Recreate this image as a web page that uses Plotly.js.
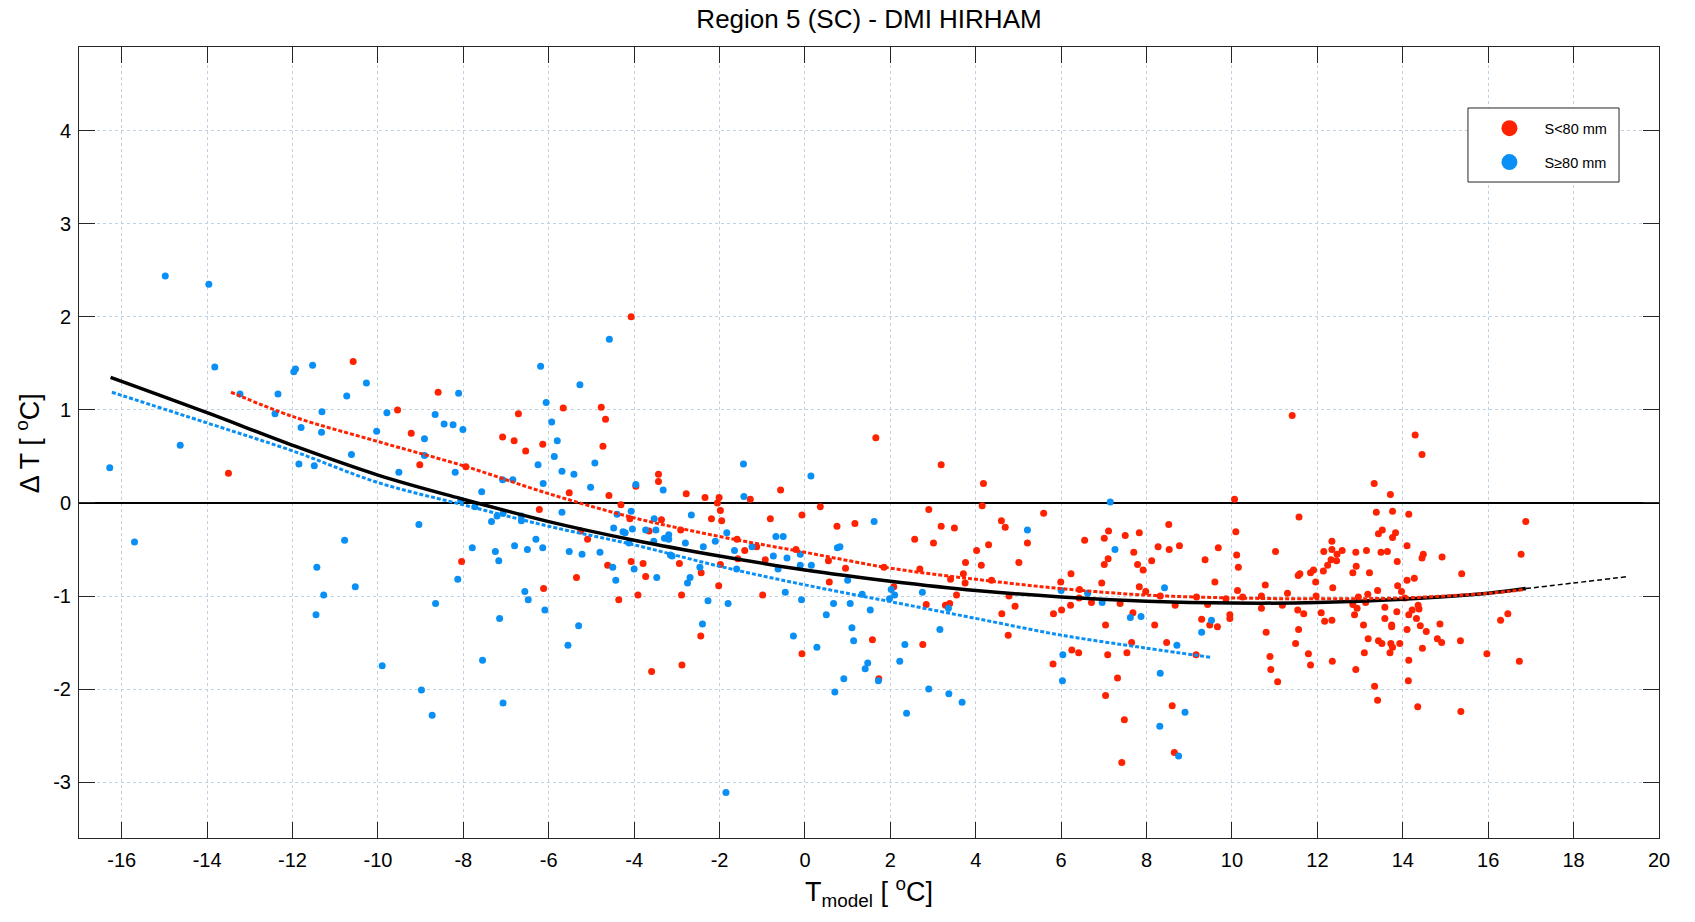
<!DOCTYPE html>
<html>
<head>
<meta charset="utf-8">
<script src="https://cdn.plot.ly/plotly-3.0.1.min.js"></script>
<style>html,body{margin:0;padding:0;background:#fff;}#chart{width:1695px;height:922px;}</style>
</head>
<body>
<div id="chart"></div>
<script>
// ---- Scatter: S<80 mm (red) ----
const redX = [-10.58,-8.59,-9.54,-9.22,-9.02,-7.94,-13.50,-4.07,-6.71,-7.08,-6.81,-6.54,-6.14,-5.66,-4.77,-4.67,-4.73,-5.52,-6.22,-4.59,-4.31,-3.96,-3.43,-3.43,-4.10,-3.36,-2.78,-2.34,-2.01,-2.05,-1.98,-2.19,-1.95,-1.28,-0.57,-0.81,-0.07,0.36,1.66,-8.04,
-5.25,-5.09,-5.35,-6.12,-4.62,-4.36,-4.07,-3.79,-3.73,-3.91,-3.65,-2.91,-2.94,-2.89,-2.43,-2.44,-2.88,-3.59,-2.02,-1.98,-1.59,-1.41,-1.57,-1.13,-0.93,-0.99,-0.21,0.55,0.95,0.57,-0.07,0.75,1.17,1.85,1.58,1.73,
3.19,4.18,2.90,4.15,5.59,4.60,10.06,11.41,14.29,14.45,13.33,13.71,11.57,13.38,13.76,14.14,16.88,
2.57,3.19,3.50,3.01,2.69,2.08,2.84,2.76,3.41,3.29,3.39,3.55,3.71,3.75,3.76,4.02,4.13,4.30,4.69,4.37,4.78,4.61,4.76,4.92,5.01,5.21,5.81,5.82,6.01,5.99,6.23,6.22,6.25,6.41,6.42,6.43,6.55,6.71,6.95,7.01,7.11,7.10,7.01,7.04,7.09,7.32,7.04,7.48,7.42,7.38,7.50,7.70,7.79,7.92,7.83,7.83,7.98,7.68,7.65,7.54,8.12,8.19,8.27,8.52,8.53,8.77,8.32,8.67,8.47,8.60,8.65,9.17,9.29,9.43,9.48,9.66,9.16,9.37,9.60,9.68,9.86,9.95,9.95,10.09,10.11,10.15,10.13,10.25,10.69,10.69,10.78,10.80,10.89,10.91,11.07,11.02,11.18,11.30,
13.52,13.43,13.83,13.76,14.10,12.34,12.15,12.34,12.46,12.58,12.45,12.32,12.24,12.14,11.96,11.84,11.91,11.55,11.59,12.36,12.90,13.15,12.91,12.83,13.22,13.49,13.64,13.87,14.10,14.27,13.88,13.97,14.45,14.48,14.92,15.38,16.77,13.41,13.18,12.96,12.83,12.93,13.13,11.54,11.68,12.09,12.17,12.34,11.56,11.49,11.79,11.84,12.35,12.87,13.08,13.19,13.10,12.90,13.34,13.41,13.58,13.58,13.74,13.74,13.86,13.43,13.51,13.72,13.76,13.70,13.93,14.10,14.14,14.22,14.36,14.38,14.32,14.41,14.55,14.46,14.14,14.13,14.35,14.87,14.81,14.91,15.35,15.36,15.97,16.29,16.46,16.73,11.97,14.05];
const redY = [1.52,1.19,1.00,0.75,0.41,0.39,0.32,2.00,0.96,0.71,0.67,0.56,0.63,1.02,1.03,0.90,0.61,0.11,-0.07,0.08,-0.02,0.18,0.31,0.23,-0.17,-0.18,0.10,0.06,0.06,0.00,-0.08,-0.17,-0.19,0.04,0.14,-0.17,-0.13,-0.04,0.70,-0.63,
-0.30,-0.39,-0.80,-0.92,-0.67,-1.04,-0.63,-0.65,-0.79,-0.99,-0.30,-0.29,-0.65,-0.99,-0.75,-1.43,-1.74,-1.81,-0.89,-0.66,-0.39,-0.51,-0.60,-0.47,-0.61,-0.99,-0.50,-0.62,-0.70,-0.85,-1.62,-0.25,-0.22,-0.69,-1.47,-1.89,
0.41,0.21,-0.07,-0.03,-0.11,-0.19,0.04,0.94,0.73,0.52,0.21,0.09,-0.15,-0.10,-0.09,-0.12,-0.20,
-0.39,-0.25,-0.27,-0.43,-0.71,-0.90,-1.09,-1.52,-0.82,-1.10,-1.08,-0.99,-0.76,-0.86,-0.64,-0.51,-0.67,-0.45,-0.26,-0.83,-1.00,-1.19,-1.42,-1.11,-0.64,-0.43,-1.73,-1.19,-1.15,-0.85,-0.76,-1.10,-1.58,-1.61,-1.02,-0.93,-0.40,-1.07,-0.86,-0.38,-0.30,-0.60,-0.66,-1.31,-1.63,-1.88,-2.07,-2.33,-2.79,-1.08,-0.35,-0.53,-0.66,-0.72,-0.32,-0.90,-0.95,-1.18,-1.50,-1.61,-0.62,-1.31,-0.47,-0.23,-0.50,-0.46,-1.00,-1.10,-1.50,-2.18,-2.68,-1.01,-1.25,-1.09,-1.31,-1.33,-1.63,-0.61,-0.85,-0.48,-1.03,-1.20,-1.24,-0.31,-0.56,-0.69,-0.94,-1.01,-1.00,-1.13,-0.88,-1.39,-1.65,-1.79,-1.92,-0.52,-1.10,-0.97,
-0.29,-0.33,-0.32,-0.37,-0.46,-0.41,-0.52,-0.50,-0.55,-0.51,-0.62,-0.61,-0.67,-0.73,-0.85,-0.75,-0.72,-0.78,-0.76,-0.91,-0.53,-0.51,-0.68,-0.75,-0.75,-0.53,-0.52,-0.63,-0.83,-0.81,-0.89,-0.95,-0.59,-0.55,-0.58,-0.76,-0.55,-0.94,-0.98,-1.01,-1.09,-1.13,-1.07,-1.15,-1.19,-1.18,-1.27,-1.26,-1.36,-1.51,-1.62,-1.74,-1.70,-1.20,-1.31,-1.46,-1.61,-1.79,-1.97,-2.12,-1.12,-1.24,-1.31,-1.33,-1.17,-1.48,-1.51,-1.51,-1.55,-1.61,-1.51,-1.36,-1.20,-1.15,-1.10,-1.14,-1.24,-1.32,-1.38,-1.56,-1.69,-1.91,-2.19,-1.30,-1.46,-1.50,-1.48,-2.24,-1.62,-1.26,-1.19,-1.70,-1.00,-1.02];

// ---- Scatter: S>=80 mm (blue) ----
const blueX = [-14.98,-13.96,-13.82,-16.28,-14.63,-13.23,-12.34,-12.41,-11.97,-11.93,-11.53,-11.80,-11.31,-11.32,-11.85,-11.49,-10.73,-10.27,-10.62,-10.03,-9.79,-9.51,-8.66,-8.45,-8.24,-8.01,-8.11,-8.91,-8.91,-8.19,-7.57,-8.06,-7.73,
-4.58,-6.19,-5.27,-6.06,-5.93,-5.80,-5.87,-6.25,-5.69,-5.41,-4.92,-6.13,-5.02,-7.08,-6.84,-3.96,-3.32,-5.69,-4.07,-4.40,-3.53,-2.66,-1.44,-1.43,0.14,1.62,-7.34,-7.21,-7.07,-6.64,-6.64,
-15.70,-10.78,-11.43,-10.53,-11.27,-11.45,-9.04,-7.79,-8.13,-8.65,-9.90,-7.55,-8.98,-8.73,
-7.25,-7.17,-6.80,-6.50,-6.30,-6.14,-6.56,-6.48,-7.15,-6.09,-7.07,-5.52,-5.22,-4.80,-4.50,-4.43,-5.30,-5.55,-4.48,-4.26,-4.21,-4.04,-3.73,-3.49,-4.12,-4.00,-3.54,-3.47,-3.29,-3.19,-3.19,-3.15,-3.11,-2.80,-2.69,-2.75,-2.46,-2.38,-2.10,-2.27,-2.40,-1.83,-1.65,-1.60,-1.80,-1.85,-1.24,-0.68,-0.51,-0.74,-0.63,-0.42,-0.11,-0.11,0.15,-0.46,-0.08,-0.27,0.28,0.50,0.67,0.76,0.82,1.00,1.06,1.10,1.14,1.34,1.53,1.47,1.41,0.91,0.70,1.72,
7.15,5.21,2.02,2.10,1.98,2.75,3.36,3.16,2.34,2.22,2.90,3.37,2.38,3.68,6.00,6.04,6.03,6.62,6.96,7.26,7.62,7.87,8.42,8.32,8.31,8.71,8.90,8.75,9.29,9.52];
const blueY = [2.44,2.35,1.46,0.38,0.62,1.17,1.17,0.96,1.41,1.44,1.48,0.81,0.98,0.76,0.42,0.40,1.15,1.29,0.52,0.77,0.97,0.33,0.95,0.85,0.84,0.79,1.18,0.69,0.51,0.33,0.12,0.03,-0.04,
1.76,1.47,1.27,1.08,0.87,0.67,0.50,0.41,0.34,0.31,0.43,0.21,0.17,0.25,0.25,0.20,0.14,-0.10,-0.09,-0.12,-0.17,-0.13,0.42,0.07,0.29,-0.20,-0.20,-0.14,-0.11,-0.14,-0.19,
-0.42,-0.40,-0.69,-0.90,-0.99,-1.20,-0.23,-0.48,-0.82,-1.08,-1.75,-1.69,-2.01,-2.28,
-0.52,-0.62,-0.46,-0.50,-0.39,-0.48,-0.95,-1.04,-1.24,-1.15,-2.15,-0.52,-0.55,-0.53,-0.69,-0.83,-1.32,-1.53,-0.27,-0.31,-0.32,-0.28,-0.29,-0.29,-0.43,-0.71,-0.41,-0.80,-0.38,-0.34,-0.39,-0.56,-0.57,-0.43,-0.80,-0.86,-0.69,-0.47,-0.41,-1.05,-1.30,-0.32,-0.51,-0.71,-1.08,-3.11,-0.47,-0.36,-0.36,-0.57,-0.71,-0.59,-0.55,-0.67,-0.67,-0.96,-1.04,-1.43,-1.55,-1.20,-1.08,-0.48,-0.47,-0.83,-1.08,-1.34,-1.48,-0.98,-1.15,-1.72,-1.78,-1.89,-2.03,-1.91,
0.01,-0.29,-0.93,-0.99,-1.03,-0.96,-1.13,-1.36,-1.52,-1.70,-2.00,-2.05,-2.26,-2.14,-0.94,-1.63,-1.91,-0.97,-1.07,-0.50,-1.23,-1.22,-0.91,-1.83,-2.40,-1.53,-2.25,-2.72,-1.39,-1.26];

// ---- Fitted curves ----
const fitAllX = [-16.26,-14,-12,-10,-8,-6,-4,-2,0,2,4,6,8,10,12,14,16,16.88];
const fitAllY = [1.35,0.97,0.62,0.30,0.04,-0.20,-0.40,-0.57,-0.72,-0.84,-0.94,-1.01,-1.055,-1.075,-1.07,-1.035,-0.97,-0.92];
const fitExtX = [16.88,18,19.29];
const fitExtY = [-0.92,-0.86,-0.79];
const fitRedX = [-13.44,-12,-10,-8,-6,-4,-2,0,2,4,6,8,10,12,14,16,16.85];
const fitRedY = [1.19,0.93,0.66,0.40,0.10,-0.16,-0.36,-0.53,-0.70,-0.82,-0.92,-0.99,-1.02,-1.03,-1.02,-0.97,-0.93];
const fitBlueX = [-16.23,-14,-12,-10,-8,-6,-4,-2,0,2,4,6,8,9.53];
const fitBlueY = [1.19,0.86,0.56,0.22,-0.02,-0.25,-0.45,-0.68,-0.88,-1.06,-1.24,-1.42,-1.56,-1.66];

// ---- Axis ticks ----
const xTickVals = [-16,-14,-12,-10,-8,-6,-4,-2,0,2,4,6,8,10,12,14,16,18,20];
const xTickText = ['-16','-14','-12','-10','-8','-6','-4','-2','0','2','4','6','8','10','12','14','16','18','20'];
const yTickVals = [-3,-2,-1,0,1,2,3,4];
const yTickText = ['-3','-2','-1','0','1','2','3','4'];

const RED = '#ff2200', BLUE = '#0a90f5';
const FONT = 'Liberation Sans, Arial, Helvetica, sans-serif';

const traces = [
  {x: redX, y: redY, type: 'scatter', mode: 'markers', name: 'S<80 mm', showlegend: false,
   marker: {color: RED, size: 7}, hoverinfo: 'x+y'},
  {x: blueX, y: blueY, type: 'scatter', mode: 'markers', name: 'S≥80 mm', showlegend: false,
   marker: {color: BLUE, size: 7}, hoverinfo: 'x+y'},
  {x: fitExtX, y: fitExtY, type: 'scatter', mode: 'lines', showlegend: false, hoverinfo: 'skip',
   line: {color: '#000', width: 1.5, dash: '5px,3px', shape: 'spline'}},
  {x: fitAllX, y: fitAllY, type: 'scatter', mode: 'lines', showlegend: false, hoverinfo: 'skip',
   line: {color: '#000', width: 3.5, shape: 'spline'}},
  {x: fitRedX, y: fitRedY, type: 'scatter', mode: 'lines', showlegend: false, hoverinfo: 'skip',
   line: {color: RED, width: 3, dash: '4px,2px', shape: 'spline'}},
  {x: fitBlueX, y: fitBlueY, type: 'scatter', mode: 'lines', showlegend: false, hoverinfo: 'skip',
   line: {color: BLUE, width: 3, dash: '4px,2px', shape: 'spline'}},
  // legend entries
  {x: [null], y: [null], type: 'scatter', mode: 'markers', name: 'S<80 mm', legendgroup: 'a',
   marker: {color: RED, size: 16}},
  {x: [null], y: [null], type: 'scatter', mode: 'markers', name: 'S≥80 mm', legendgroup: 'b',
   marker: {color: BLUE, size: 16}}
];

const axisCommon = {
  showline: true, linecolor: '#262626', linewidth: 1, mirror: 'ticks',
  ticks: 'inside', ticklen: 16, tickwidth: 1, tickcolor: '#262626',
  showgrid: true, gridcolor: '#bfd3e5', gridwidth: 1, griddash: 'dot',
  tickfont: {family: FONT, size: 20, color: '#000'}
};

const layout = {
  width: 1695, height: 922,
  margin: {l: 79, r: 36, t: 47, b: 84},
  paper_bgcolor: '#fff', plot_bgcolor: '#fff',
  font: {family: FONT, color: '#000'},
  title: {text: 'Region 5 (SC) - DMI HIRHAM', font: {family: FONT, size: 26, color: '#000'},
          x: 0.5, xref: 'paper', y: 0.979, yref: 'container', yanchor: 'middle'},
  xaxis: Object.assign({}, axisCommon, {
    range: [-17, 20], tickmode: 'array', tickvals: xTickVals, ticktext: xTickText,
    zeroline: false, ticklabelstandoff: 4,
    title: {text: 'T<sub>model</sub> [ <sup>o</sup>C]', font: {family: FONT, size: 27, color: '#000'}, standoff: 12}
  }),
  yaxis: Object.assign({}, axisCommon, {
    range: [-3.6, 4.9], tickmode: 'array', tickvals: yTickVals, ticktext: yTickText,
    zeroline: true, zerolinecolor: '#000', zerolinewidth: 2, ticklabelstandoff: 3
  }),
  annotations: [{
    text: 'Δ T [ <sup>o</sup>C]', textangle: -90, showarrow: false,
    xref: 'paper', yref: 'paper', x: -0.0323, y: 0.499, xanchor: 'center', yanchor: 'middle',
    font: {family: FONT, size: 27, color: '#000'}
  }],
  shapes: [{
    type: 'rect', xref: 'paper', yref: 'paper', x0: 0.8791, x1: 0.9747, y0: 0.8293, y1: 0.9229,
    line: {color: '#262626', width: 1}, fillcolor: '#fff', layer: 'above'
  }],
  legend: {
    x: 0.8832, y: 0.9175, xanchor: 'left', yanchor: 'top',
    bgcolor: 'rgba(0,0,0,0)', borderwidth: 0,
    font: {family: FONT, size: 14.5, color: '#000'},
    itemwidth: 60, tracegroupgap: 12, itemclick: false, itemdoubleclick: false
  },
  showlegend: true
};

Plotly.newPlot('chart', traces, layout, {displayModeBar: false});
</script>
</body>
</html>
